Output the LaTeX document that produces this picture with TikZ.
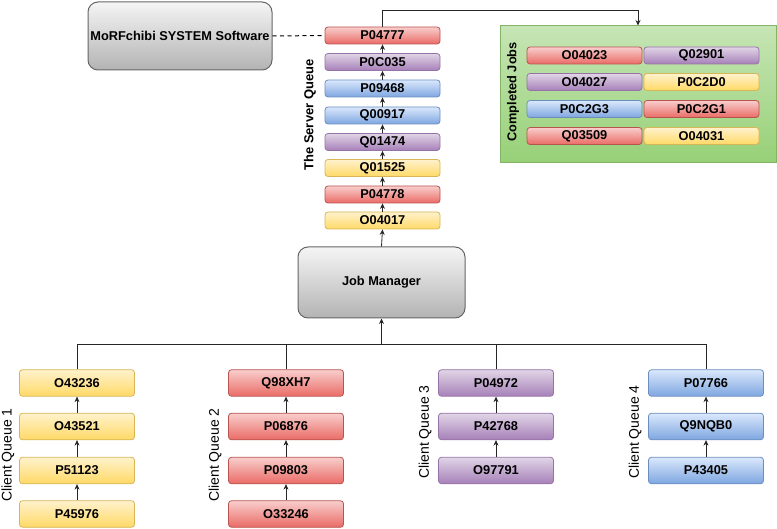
\documentclass[tikz,border=0pt]{standalone}
\usepackage{fontspec}
\setmainfont{Liberation Sans}
\usetikzlibrary{arrows.meta}
\definecolor{ylwT}{HTML}{FFF2CC}\definecolor{ylwB}{HTML}{FFD966}\definecolor{ylwD}{HTML}{D6B656}
\definecolor{redT}{HTML}{F8CECC}\definecolor{redB}{HTML}{EA6B66}\definecolor{redD}{HTML}{B85450}
\definecolor{prpT}{HTML}{E1D5E7}\definecolor{prpB}{HTML}{A680B8}\definecolor{prpD}{HTML}{9673A6}
\definecolor{bluT}{HTML}{DAE8FC}\definecolor{bluB}{HTML}{7EA6E0}\definecolor{bluD}{HTML}{6C8EBF}
\definecolor{gryT}{HTML}{F5F5F5}\definecolor{gryB}{HTML}{B3B3B3}\definecolor{gryD}{HTML}{666666}
\definecolor{grnT}{HTML}{C6E5B5}\definecolor{grnB}{HTML}{97D077}\definecolor{grnD}{HTML}{82B366}
\begin{document}
\begin{tikzpicture}[x=1pt,y=-1pt,
  txt/.style={font=\bfseries\fontsize{12.8}{14}\selectfont},
  job/.style={txt,rounded corners=3pt,line width=0.8pt,minimum width=115pt,inner sep=0pt,text=black},
  sq/.style={job,minimum height=17pt},
  cq/.style={job,minimum height=26.5pt},
  ylw/.style={draw=ylwD,top color=ylwT,bottom color=ylwB},
  red/.style={draw=redD,top color=redT,bottom color=redB},
  prp/.style={draw=prpD,top color=prpT,bottom color=prpB},
  blu/.style={draw=bluD,top color=bluT,bottom color=bluB},
  big/.style={txt,draw=gryD,top color=gryT,bottom color=gryB,rounded corners=10pt,line width=1pt,inner sep=0pt},
  lbl/.style={rotate=90,font=\fontsize{14}{16}\selectfont},
  blbl/.style={rotate=90,font=\bfseries\fontsize{13}{15}\selectfont},
  arr/.style={-{Stealth[length=5.5pt,width=5pt]},line width=0.8pt,draw=black!85},
  ln/.style={line width=0.8pt,draw=black!85}]
\useasboundingbox (0,0) rectangle (777,529);
% system box
\node[big,minimum width=184pt,minimum height=68pt] (sys) at (180,36) {MoRFchibi SYSTEM Software};
\node[big,minimum width=167pt,minimum height=71pt] (jm) at (381.5,282.5) {Job Manager};
% server queue
\node[sq,red] (s1) at (382.5,35.5) {P04777};
\node[sq,prp] (s2) at (382.5,62) {P0C035};
\node[sq,blu] (s3) at (382.5,88.5) {P09468};
\node[sq,blu] (s4) at (382.5,115.5) {Q00917};
\node[sq,prp] (s5) at (382.5,142) {Q01474};
\node[sq,ylw] (s6) at (382.5,168) {Q01525};
\node[sq,red] (s7) at (382.5,194.5) {P04778};
\node[sq,ylw] (s8) at (382.5,220.5) {O04017};
\node[blbl] (sql) at (310,115) {The Server Queue};
\foreach \a/\b in {s8/s7,s7/s6,s6/s5,s5/s4,s4/s3,s3/s2,s2/s1}
  \draw[arr] (\a.north) -- (\b.south);
\draw[arr] (jm.north) -- (s8.south);
\draw[line width=1pt,black,dash pattern=on 4pt off 3.5pt] (sys.east) -- (s1.west);
% completed jobs
\node[draw=grnD,top color=grnT,bottom color=grnB,line width=1pt,minimum width=276pt,minimum height=137pt,inner sep=0pt] (cj) at (638,94.5) {};
\node[blbl,font=\bfseries\fontsize{12.8}{14}\selectfont] (cjl) at (513,92) {Completed Jobs};
\node[sq,red] (c11) at (584.5,55.5) {O04023};
\node[sq,prp] (c12) at (701.5,55.5) {Q02901};
\node[sq,prp] (c21) at (584.5,82) {O04027};
\node[sq,ylw] (c22) at (701.5,82) {P0C2D0};
\node[sq,blu] (c31) at (584.5,109) {P0C2G3};
\node[sq,red] (c32) at (701.5,109) {P0C2G1};
\node[sq,red] (c41) at (584.5,136) {Q03509};
\node[sq,ylw] (c42) at (701.5,136) {O04031};
\coordinate (t1) at (s1.north |- 0,10);
\coordinate (t2) at (cj.north |- 0,10);
\draw[arr] (s1.north) -- (t1) -- (t2) -- (cj.north);
% client queues
\node[cq,ylw] (a1) at (77,383) {O43236};
\node[cq,ylw] (a2) at (77,426.5) {O43521};
\node[cq,ylw] (a3) at (77,470.5) {P51123};
\node[cq,ylw] (a4) at (77,514) {P45976};
\node[cq,red] (b1) at (286,383) {Q98XH7};
\node[cq,red] (b2) at (286,426.5) {P06876};
\node[cq,red] (b3) at (286,470.5) {P09803};
\node[cq,red] (b4) at (286,514) {O33246};
\node[cq,prp] (d1) at (496,383) {P04972};
\node[cq,prp] (d2) at (496,426.5) {P42768};
\node[cq,prp] (d3) at (496,470.5) {O97791};
\node[cq,blu] (e1) at (706,383) {P07766};
\node[cq,blu] (e2) at (706,426.5) {Q9NQB0};
\node[cq,blu] (e3) at (706,470.5) {P43405};
\node[lbl] (l1) at (8,455) {Client Queue 1};
\node[lbl] (l2) at (215,455) {Client Queue 2};
\node[lbl] (l3) at (425,432) {Client Queue 3};
\node[lbl] (l4) at (635,432) {Client Queue 4};
\foreach \a/\b in {a4/a3,a3/a2,a2/a1,b4/b3,b3/b2,b2/b1,d3/d2,d2/d1,e3/e2,e2/e1}
  \draw[arr] (\a.north) -- (\b.south);
\coordinate (bus) at (jm.south |- 0,344);
\draw[ln] (a1.north) -- (a1.north |- bus) -- (e1.north |- bus) -- (e1.north);
\draw[ln] (b1.north) -- (b1.north |- bus);
\draw[ln] (d1.north) -- (d1.north |- bus);
\draw[arr] (bus) -- (jm.south);
\end{tikzpicture}
\end{document}
